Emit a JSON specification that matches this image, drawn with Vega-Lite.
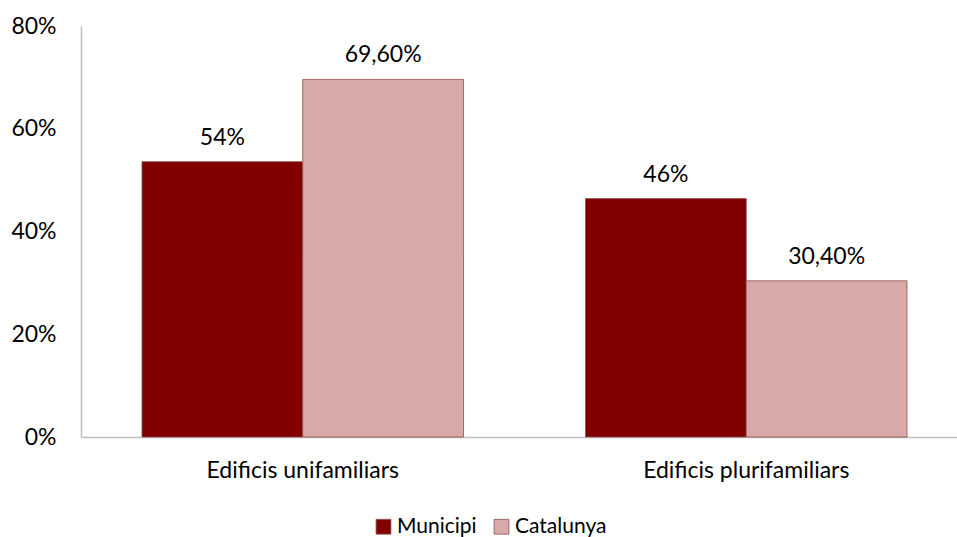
{
  "$schema": "https://vega.github.io/schema/vega-lite/v6.json",
  "width": 887,
  "height": 411,
  "autosize": {"type": "none"},
  "padding": {"left": 81, "top": 26, "right": 0, "bottom": 100},
  "background": "white",
  "config": {
    "view": {"stroke": null},
    "font": "Lato",
    "axis": {"labelFont": "Lato", "labelFontSize": 23, "labelColor": "#000000", "labelLimit": 0},
    "legend": {"labelFont": "Lato", "labelFontSize": 21, "labelColor": "#000000"}
  },
  "data": {
    "values": [
      {"categoria": "Edificis unifamiliars", "serie": "Municipi", "valor": 0.536, "etiqueta": "54%"},
      {"categoria": "Edificis unifamiliars", "serie": "Catalunya", "valor": 0.696, "etiqueta": "69,60%"},
      {"categoria": "Edificis plurifamiliars", "serie": "Municipi", "valor": 0.464, "etiqueta": "46%"},
      {"categoria": "Edificis plurifamiliars", "serie": "Catalunya", "valor": 0.304, "etiqueta": "30,40%"}
    ]
  },
  "encoding": {
    "x": {
      "field": "categoria", "type": "nominal", "sort": null,
      "scale": {"paddingInner": 0.275, "paddingOuter": 0.1375},
      "axis": {"title": null, "labelAngle": 0, "ticks": false, "domainColor": "#BFBFBF", "domainWidth": 1.5, "labelPadding": 22, "labelLimit": 0}
    },
    "xOffset": {"field": "serie", "type": "nominal", "sort": ["Municipi", "Catalunya"], "scale": {"paddingInner": 0, "paddingOuter": 0}},
    "y": {
      "field": "valor", "type": "quantitative",
      "scale": {"domain": [0, 0.8], "nice": false},
      "axis": {"title": null, "format": ".0%", "values": [0, 0.2, 0.4, 0.6, 0.8], "grid": false, "ticks": false, "domainColor": "#BFBFBF", "domainWidth": 1.5, "labelPadding": 25}
    }
  },
  "layer": [
    {
      "mark": {"type": "bar", "stroke": "#8C4F4F", "strokeWidth": 0.8},
      "encoding": {
        "color": {
          "field": "serie", "type": "nominal",
          "scale": {"domain": ["Municipi", "Catalunya"], "range": ["#800000", "#D9A9A9"]},
          "legend": {"title": null, "orient": "none", "direction": "horizontal", "legendX": 292, "legendY": 490, "symbolType": "square", "symbolSize": 220, "symbolStrokeColor": "#8C4F4F", "symbolStrokeWidth": 0.8, "columnPadding": 14, "labelOffset": 3}
        }
      }
    },
    {
      "mark": {"type": "text", "baseline": "bottom", "dy": -12, "fontSize": 23, "font": "Lato", "color": "#000000"},
      "encoding": {"text": {"field": "etiqueta"}}
    }
  ]
}
